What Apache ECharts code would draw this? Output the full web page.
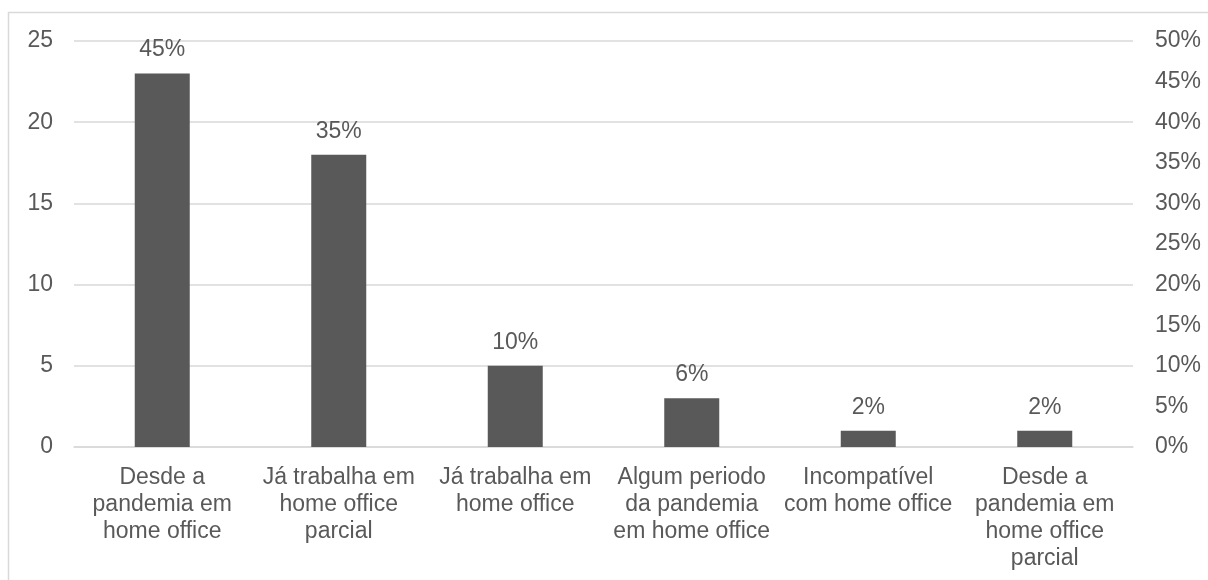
<!DOCTYPE html>
<html><head><meta charset="utf-8">
<script src="https://cdn.jsdelivr.net/npm/echarts@6/dist/echarts.min.js"></script>
<style>html,body{margin:0;padding:0;background:#fff}#c{width:1208px;height:580px}</style>
</head><body><div id="c"></div>
<script>
const categories = ["Desde a\npandemia em\nhome office","Já trabalha em\nhome office\nparcial","Já trabalha em\nhome office","Algum periodo\nda pandemia\nem home office","Incompatível\ncom home office","Desde a\npandemia em\nhome office\nparcial"];
const counts = [23, 18, 5, 3, 1, 1];
const percentLabels = ["45%","35%","10%","6%","2%","2%"];
const txt = '#595959';
const font = '"Liberation Sans", Arial, sans-serif';
const fs = 23;
const chart = echarts.init(document.getElementById('c'));
chart.setOption({
  animation:false,
  backgroundColor:'#fff',
  graphic:[{type:'rect',shape:{x:8.5,y:12.5,width:1400,height:800},style:{fill:'none',stroke:'#d9d9d9',lineWidth:1.5},silent:true}],
  grid:{left:74,right:75,top:41,bottom:133},
  xAxis:{type:'category',data:categories,
    axisLine:{show:true,lineStyle:{color:'#d9d9d9',width:1.5}},axisTick:{show:false},
    axisLabel:{color:txt,fontSize:fs,fontFamily:font,lineHeight:27,margin:17,interval:0}},
  yAxis:[
    {type:'value',min:0,max:25,interval:5,
     axisLine:{show:false},axisTick:{show:false},
     splitLine:{lineStyle:{color:'#d9d9d9',width:1.5}},
     axisLabel:{color:txt,fontSize:fs,fontFamily:font,margin:21}},
    {type:'value',min:0,max:50,interval:5,position:'right',
     axisLine:{show:false},axisTick:{show:false},splitLine:{show:false},
     axisLabel:{color:txt,fontSize:fs,fontFamily:font,margin:22,formatter:'{value}%'}}
  ],
  series:[{type:'bar',data:counts,barWidth:55,
    itemStyle:{color:'#595959'},
    label:{show:true,position:'top',distance:12,color:txt,fontSize:fs,fontFamily:font,
      formatter:p=>percentLabels[p.dataIndex]}}]
});
</script></body></html>
